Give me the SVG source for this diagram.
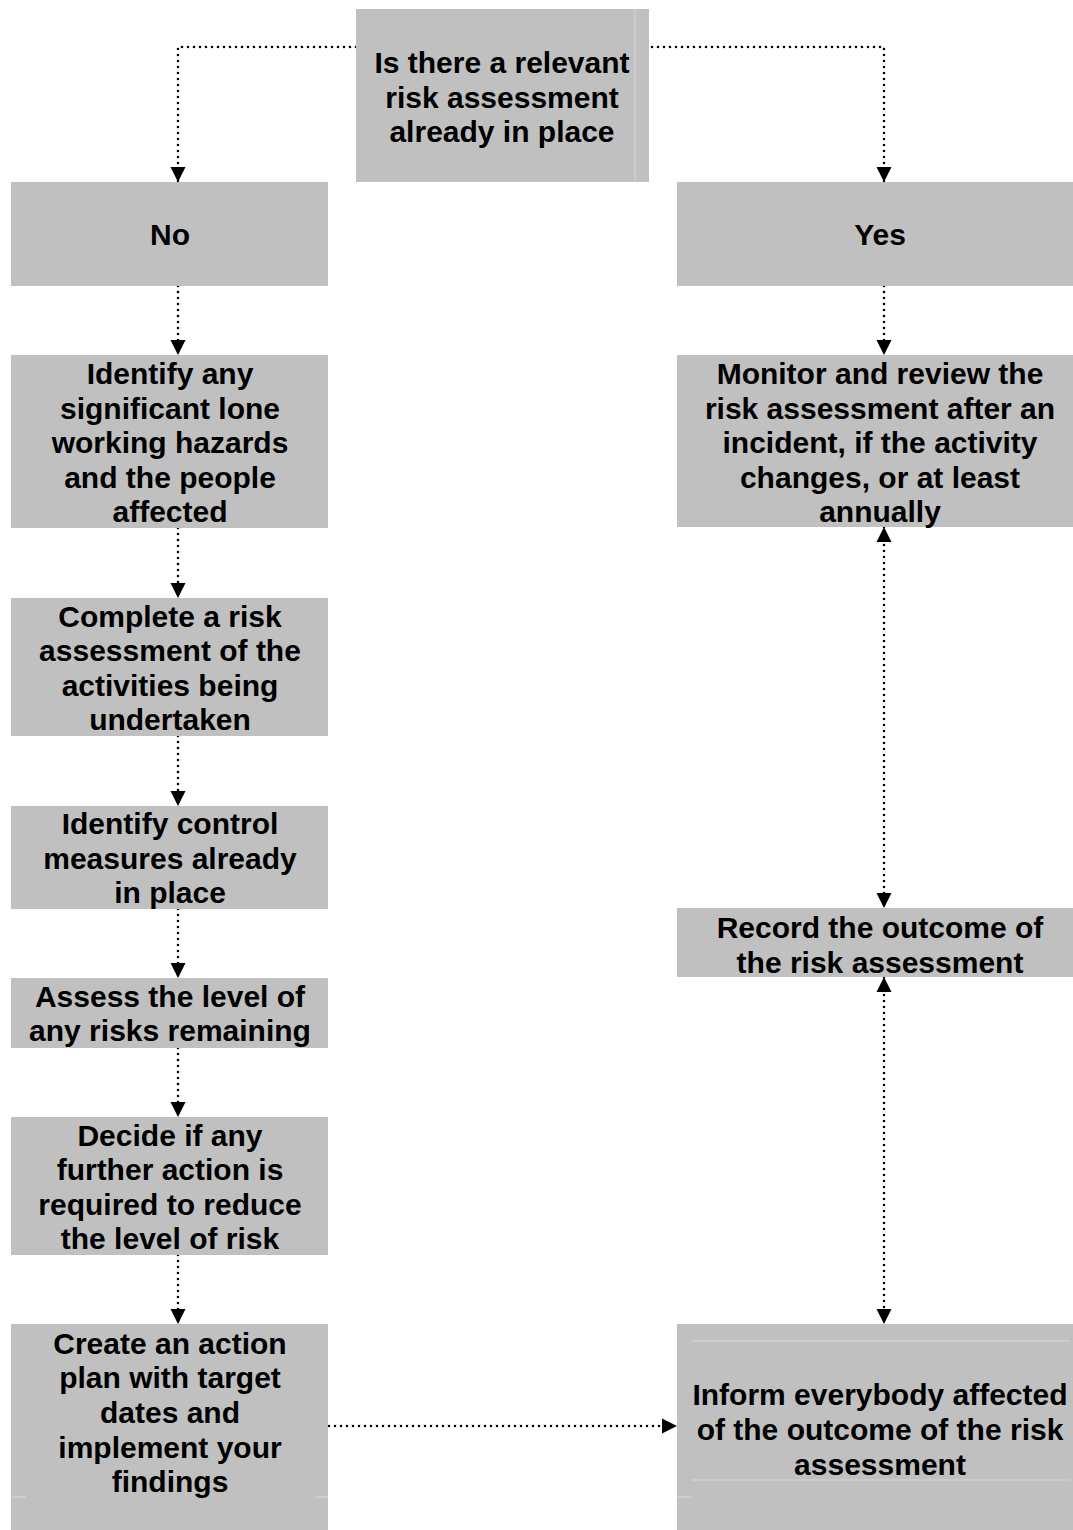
<svg xmlns="http://www.w3.org/2000/svg" width="1073" height="1530" viewBox="0 0 1073 1530">
<style>
.box{fill:#c0c0c0}
.t{font-family:"Liberation Sans",Arial,sans-serif;font-weight:bold;font-size:30px;fill:#000;text-anchor:middle}
.c{fill:none;stroke:#000;stroke-width:2.6;stroke-dasharray:0 6;stroke-linecap:round}
.f{stroke:#d6d6d6;stroke-width:1}
</style>
<defs>
<marker id="ah" markerUnits="userSpaceOnUse" markerWidth="16" markerHeight="16" viewBox="0 0 16 16" refX="15" refY="8" orient="auto-start-reverse">
<path d="M0,0.5 L15,8 L0,15.5 Z" fill="#000"/>
</marker>
</defs>
<rect width="1073" height="1530" fill="#fff"/>
<g id="connectors">
<path class="c" d="M362,47 H178 V182" marker-end="url(#ah)"/>
<path class="c" d="M652,47 H884 V182" marker-end="url(#ah)"/>
<path class="c" d="M178,286 V355" marker-end="url(#ah)"/>
<path class="c" d="M884,286 V355" marker-end="url(#ah)"/>
<path class="c" d="M178,528 V598" marker-end="url(#ah)"/>
<path class="c" d="M178,736 V806" marker-end="url(#ah)"/>
<path class="c" d="M178,909 V978" marker-end="url(#ah)"/>
<path class="c" d="M178,1048 V1117" marker-end="url(#ah)"/>
<path class="c" d="M178,1255 V1324" marker-end="url(#ah)"/>
<path class="c" d="M884,527 V908" marker-start="url(#ah)" marker-end="url(#ah)"/>
<path class="c" d="M884,977 V1324" marker-start="url(#ah)" marker-end="url(#ah)"/>
<path class="c" d="M323,1426 H677" marker-end="url(#ah)"/>
</g>
<g id="n-question">
<rect class="box" x="356" y="9" width="293" height="173"/>
<line class="f" x1="635" y1="9" x2="635" y2="182"/>
<text class="t" x="502" y="73">Is there a relevant</text>
<text class="t" x="502" y="108">risk assessment</text>
<text class="t" x="502" y="142">already in place</text>
</g>
<g id="n-no">
<rect class="box" x="11" y="182" width="317" height="104"/>
<text class="t" x="170" y="245">No</text>
</g>
<g id="n-yes">
<rect class="box" x="677" y="182" width="396" height="104"/>
<text class="t" x="880" y="245">Yes</text>
</g>
<g id="n-identify">
<rect class="box" x="11" y="355" width="317" height="173"/>
<text class="t" x="170" y="384">Identify any</text>
<text class="t" x="170" y="419">significant lone</text>
<text class="t" x="170" y="453">working hazards</text>
<text class="t" x="170" y="488">and the people</text>
<text class="t" x="170" y="522">affected</text>
</g>
<g id="n-monitor">
<rect class="box" x="677" y="355" width="396" height="172"/>
<text class="t" x="880" y="384">Monitor and review the</text>
<text class="t" x="880" y="419">risk assessment after an</text>
<text class="t" x="880" y="453">incident, if the activity</text>
<text class="t" x="880" y="488">changes, or at least</text>
<text class="t" x="880" y="522">annually</text>
</g>
<g id="n-complete">
<rect class="box" x="11" y="598" width="317" height="138"/>
<text class="t" x="170" y="627">Complete a risk</text>
<text class="t" x="170" y="661">assessment of the</text>
<text class="t" x="170" y="696">activities being</text>
<text class="t" x="170" y="730">undertaken</text>
</g>
<g id="n-control">
<rect class="box" x="11" y="806" width="317" height="103"/>
<text class="t" x="170" y="834">Identify control</text>
<text class="t" x="170" y="869">measures already</text>
<text class="t" x="170" y="903">in place</text>
</g>
<g id="n-record">
<rect class="box" x="677" y="908" width="396" height="69"/>
<text class="t" x="880" y="938">Record the outcome of</text>
<text class="t" x="880" y="973">the risk assessment</text>
</g>
<g id="n-assess">
<rect class="box" x="11" y="978" width="317" height="70"/>
<text class="t" x="170" y="1007">Assess the level of</text>
<text class="t" x="170" y="1041">any risks remaining</text>
</g>
<g id="n-decide">
<rect class="box" x="11" y="1117" width="317" height="138"/>
<text class="t" x="170" y="1146">Decide if any</text>
<text class="t" x="170" y="1180">further action is</text>
<text class="t" x="170" y="1215">required to reduce</text>
<text class="t" x="170" y="1249">the level of risk</text>
</g>
<g id="n-create">
<rect class="box" x="11" y="1324" width="317" height="206"/>
<line class="f" x1="11" y1="1497" x2="26" y2="1497"/>
<line class="f" x1="315" y1="1497" x2="328" y2="1497"/>
<text class="t" x="170" y="1354">Create an action</text>
<text class="t" x="170" y="1388">plan with target</text>
<text class="t" x="170" y="1423">dates and</text>
<text class="t" x="170" y="1458">implement your</text>
<text class="t" x="170" y="1492">findings</text>
</g>
<g id="n-inform">
<rect class="box" x="677" y="1324" width="396" height="206"/>
<line class="f" x1="692" y1="1341" x2="1070" y2="1341"/>
<line class="f" x1="692" y1="1480" x2="1070" y2="1480"/>
<line class="f" x1="677" y1="1497" x2="692" y2="1497"/>
<text class="t" x="880" y="1405">Inform everybody affected</text>
<text class="t" x="880" y="1440">of the outcome of the risk</text>
<text class="t" x="880" y="1475">assessment</text>
</g>
</svg>
